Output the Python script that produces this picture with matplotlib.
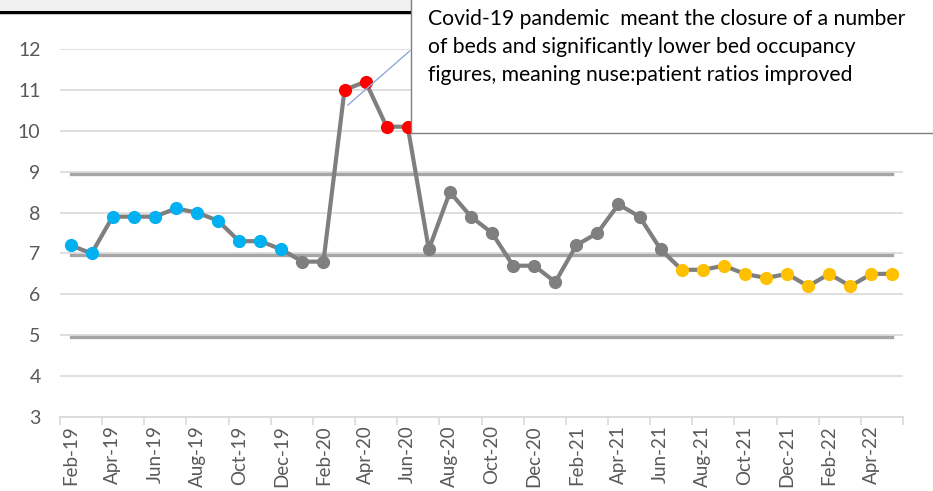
import matplotlib.pyplot as plt
from matplotlib.patches import Rectangle
from matplotlib.lines import Line2D

plt.rcParams['font.family'] = ['Lato', 'DejaVu Sans']

# ---------------------- данные ----------------------
months = ['Feb-19', 'Mar-19', 'Apr-19', 'May-19', 'Jun-19', 'Jul-19', 'Aug-19', 'Sep-19',
          'Oct-19', 'Nov-19', 'Dec-19', 'Jan-20', 'Feb-20', 'Mar-20', 'Apr-20', 'May-20',
          'Jun-20', 'Jul-20', 'Aug-20', 'Sep-20', 'Oct-20', 'Nov-20', 'Dec-20', 'Jan-21',
          'Feb-21', 'Mar-21', 'Apr-21', 'May-21', 'Jun-21', 'Jul-21', 'Aug-21', 'Sep-21',
          'Oct-21', 'Nov-21', 'Dec-21', 'Jan-22', 'Feb-22', 'Mar-22', 'Apr-22', 'May-22']
values = [7.2, 7.0, 7.9, 7.9, 7.9, 8.1, 8.0, 7.8, 7.3, 7.3, 7.1, 6.8, 6.8, 11.0, 11.2, 10.1,
          10.1, 7.1, 8.5, 7.9, 7.5, 6.7, 6.7, 6.3, 7.2, 7.5, 8.2, 7.9, 7.1, 6.6, 6.6, 6.7,
          6.5, 6.4, 6.5, 6.2, 6.5, 6.2, 6.5, 6.5]
# цвет точки: серый по умолчанию, синий / красный / жёлтый для особых участков
point_groups = (['blue'] * 11 + ['grey'] * 2 + ['red'] * 4 + ['grey'] * 12 + ['amber'] * 11)
ucl, mean, lcl = 8.95, 6.95, 4.95
note = ("Covid-19 pandemic  meant the closure of a number\n"
        "of beds and significantly lower bed occupancy\n"
        "figures, meaning nuse:patient ratios improved")

colors = {'grey': '#7F7F7F', 'blue': '#00B0F0', 'red': '#FF0000', 'amber': '#FFC000'}

# ---------------------- рисунок ----------------------
fig = plt.figure(figsize=(9.33, 4.91), dpi=100)
ax = fig.add_axes([60 / 933, 1 - 417 / 491, 843 / 933, 368 / 491])

x = list(range(len(months)))
ax.set_xlim(-0.5, len(months) - 0.5)
ax.set_ylim(3, 12)

ax.grid(axis='y', color='#D9D9D9', linewidth=1.2)
ax.set_axisbelow(True)

# контрольные линии
for lvl in (ucl, mean, lcl):
    ax.plot([x[0], x[-1]], [lvl, lvl], color='#A6A6A6', linewidth=2.4, zorder=2)

ax.plot(x, values, color='#7F7F7F', linewidth=3.0, zorder=3)
for xi, v, g in zip(x, values, point_groups):
    ax.plot(xi, v, 'o', color=colors[g], markersize=9.5, markeredgewidth=0, zorder=4)

# оси
for s in ('top', 'right', 'left'):
    ax.spines[s].set_visible(False)
ax.spines['bottom'].set_color('#D9D9D9')
ax.spines['bottom'].set_linewidth(1.2)

ax.set_yticks(range(3, 13))
ax.tick_params(axis='y', length=0, labelsize=14, labelcolor='#595959', pad=14)

ax.set_xticks(x[::2])
ax.set_xticklabels(months[::2], rotation=90)
ax.set_xticks([i - 0.5 for i in range(0, len(months) + 1, 2)], minor=True)
ax.tick_params(axis='x', which='major', length=0, labelsize=13.5, labelcolor='#595959', pad=6)
ax.tick_params(axis='x', which='minor', length=6, color='#D9D9D9', width=1.2)

# соединительная линия к выноске
ax.annotate('', xy=(13.05, 10.58), xytext=(16.2, 12.0),
            arrowprops=dict(arrowstyle='-', color='#8FAADC', linewidth=1.0),
            annotation_clip=False, zorder=5)

# выноска
fig.patches.append(Rectangle((411 / 933, 1 - 133 / 491), 1, 133 / 491 + 0.01,
                             transform=fig.transFigure, facecolor='white',
                             edgecolor='#7F7F7F', linewidth=1.0, zorder=10))
fig.text(428 / 933, 1 - 9 / 491, note, fontsize=15.2, color='black', va='top', ha='left',
         linespacing=1.5, zorder=11)

# полоса сверху (фон окна)
fig.patches.append(Rectangle((0, 1 - 11 / 491), 411 / 933, 11 / 491,
                             transform=fig.transFigure, facecolor='#F0F0F0',
                             edgecolor='none', zorder=9))
fig.lines.append(Line2D([0, 411 / 933], [1 - 12 / 491, 1 - 12 / 491],
                        transform=fig.transFigure, color='black', linewidth=2.5, zorder=9))

fig.savefig('out.png', dpi=100)
